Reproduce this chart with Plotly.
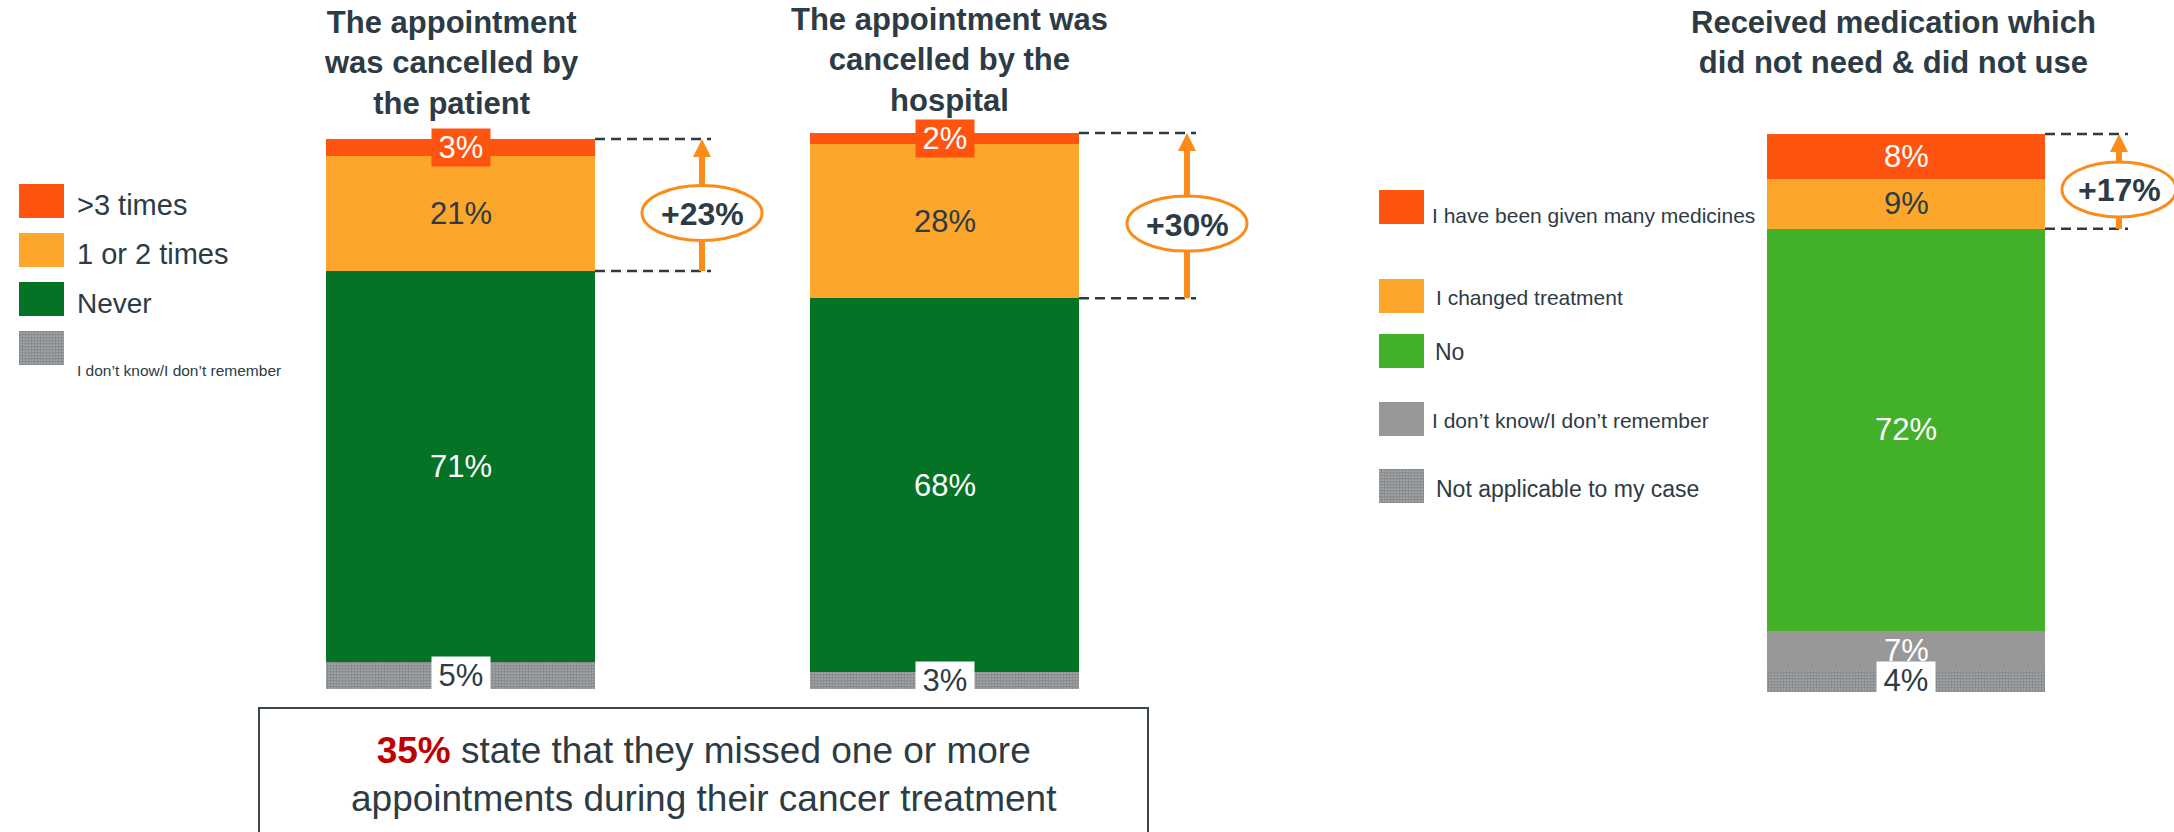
import plotly.graph_objects as go

W, H = 2174, 832

# ---------------- data ----------------
panel_titles = [
    "The appointment<br>was cancelled by<br>the patient",
    "The appointment was<br>cancelled by the<br>hospital",
    "Received medication which<br>did not need & did not use",
]

# categories listed top of bar -> bottom of bar
appt_categories = [">3 times", "1 or 2 times", "Never", "I don’t know/I don’t remember"]
cancelled_by_patient = [3, 21, 71, 5]
cancelled_by_hospital = [2, 28, 68, 3]

med_categories = [
    "I have been given many medicines",
    "I changed treatment",
    "No",
    "I don’t know/I don’t remember",
    "Not applicable to my case",
]
unneeded_medication = [8, 9, 72, 7, 4]

callout_gains = [23, 30, 17]          # share reporting at least once, per panel
missed_share = 35
missed_text = ["state that they missed one or more", "appointments during their cancer treatment"]

# ---------------- styling ----------------
FONT = "Arial, 'Liberation Sans', Helvetica, sans-serif"
INK = "#2D3B45"
RED = "#FE5410"
ORANGE = "#FCA62B"
DKGREEN = "#047326"
GREEN = "#43B02A"
GREY = "#989898"
CALLOUT = "#FB8C1A"
EMPH = "#C00000"
HATCH = None  # checkerboard fill marker

appt_colors = [RED, ORANGE, DKGREEN, HATCH]
med_colors = [RED, ORANGE, GREEN, GREY, HATCH]
# label text colour per segment
appt_label_colors = ["white", INK, "white", INK]
med_label_colors = ["white", INK, "white", "white", INK]

CHECKER = dict(shape=".", fgcolor="#141B21", bgcolor="white", size=3, solidity=0.85)

panels = [
    dict(values=cancelled_by_patient, cats=appt_categories, colors=appt_colors,
         label_colors=appt_label_colors, box=(326, 595, 689, 139),
         title_xy=(451, 63), arrow_dx=107, ell_rx=60),
    dict(values=cancelled_by_hospital, cats=appt_categories, colors=appt_colors,
         label_colors=appt_label_colors, box=(810, 1079, 689, 133),
         title_xy=(949, 60), arrow_dx=108, ell_rx=60),
    dict(values=unneeded_medication, cats=med_categories, colors=med_colors,
         label_colors=med_label_colors, box=(1767, 2045, 692, 134),
         title_xy=(1893, 43), arrow_dx=74, ell_rx=57),
]


def fx(p):
    return p / W


def fy(p):
    return 1 - p / H


fig = go.Figure()
shapes = []
annotations = []
layout_axes = {}

for i, pn in enumerate(panels, start=1):
    x0, x1, ybot, ytop = pn["box"]
    vals, cats, cols = pn["values"], pn["cats"], pn["colors"]
    total = sum(vals)
    xa = "x" if i == 1 else f"x{i}"
    ya = "y" if i == 1 else f"y{i}"
    xkey = "xaxis" if i == 1 else f"xaxis{i}"
    ykey = "yaxis" if i == 1 else f"yaxis{i}"
    layout_axes[xkey] = dict(domain=[fx(x0), fx(x1)], range=[-0.5, 0.5], visible=False,
                             anchor=ya, fixedrange=True)
    layout_axes[ykey] = dict(domain=[fy(ybot), fy(ytop)], range=[0, total], visible=False,
                             anchor=xa, fixedrange=True)
    cat_name = f"panel{i}"

    def to_py(v, ybot=ybot, ytop=ytop, total=total):
        return ybot - v * (ybot - ytop) / total

    # stack from the bottom segment upwards
    cum = 0
    order = list(range(len(vals)))[::-1]
    for k in order:
        v, c = vals[k], cols[k]
        if c is None:
            marker = dict(color="white", pattern=CHECKER, line=dict(width=0))
        else:
            marker = dict(color=c, line=dict(width=0))
        fig.add_trace(go.Bar(x=[cat_name], y=[v], width=1, marker=marker, name=cats[k],
                             xaxis=xa, yaxis=ya, showlegend=False, hoverinfo="skip"))
        mid = cum + v / 2
        small = v <= 5
        ann = dict(x=cat_name, y=mid, xref=xa, yref=ya, text=f"{v}%", showarrow=False,
                   font=dict(family=FONT, size=31, color=pn["label_colors"][k]),
                   xanchor="center", yanchor="middle")
        if small:
            ann.update(bgcolor=(c if c is not None else "white"), width=56, height=35)
        annotations.append(ann)
        cum += v

    # title
    tx, ty = pn["title_xy"]
    annotations.append(dict(x=fx(tx), y=fy(ty), xref="paper", yref="paper",
                            text=f"<b>{panel_titles[i - 1]}</b>", showarrow=False,
                            xanchor="center", yanchor="middle", align="center",
                            font=dict(family=FONT, size=31, color=INK)))

    # callout: dashed guides, arrow and ellipse spanning the top two segments
    upper = total
    lower = total - vals[0] - vals[1]
    py_up, py_lo = to_py(upper), to_py(lower)
    ax_px = x1 + pn["arrow_dx"]
    for py in (py_up, py_lo):
        shapes.append(dict(type="line", xref="paper", yref="paper",
                           x0=fx(x1), x1=fx(ax_px + 9), y0=fy(py), y1=fy(py),
                           line=dict(color=INK, width=2.5, dash="10px,6px")))
    shapes.append(dict(type="line", xref="paper", yref="paper",
                       x0=fx(ax_px), x1=fx(ax_px), y0=fy(py_lo), y1=fy(py_up + 14),
                       line=dict(color=CALLOUT, width=6)))
    shapes.append(dict(type="path", xref="paper", yref="paper",
                       path=(f"M{fx(ax_px - 9)},{fy(py_up + 18)} L{fx(ax_px + 9)},{fy(py_up + 18)} "
                             f"L{fx(ax_px)},{fy(py_up)} Z"),
                       fillcolor=CALLOUT, line=dict(width=0)))
    ecy = (py_up + py_lo) / 2 + 8
    rx, ry = pn["ell_rx"], 27.5
    shapes.append(dict(type="circle", xref="paper", yref="paper",
                       x0=fx(ax_px - rx), x1=fx(ax_px + rx), y0=fy(ecy + ry), y1=fy(ecy - ry),
                       fillcolor="white", line=dict(color=CALLOUT, width=3)))
    annotations.append(dict(x=fx(ax_px), y=fy(ecy + 1), xref="paper", yref="paper",
                            text=f"<b>+{callout_gains[i - 1]}%</b>", showarrow=False,
                            xanchor="center", yanchor="middle",
                            font=dict(family=FONT, size=32, color=INK)))

# ---------------- legends (overlay axis in pixel units) ----------------
layout_axes["xaxis4"] = dict(domain=[0, 1], range=[0, W], visible=False, anchor="y4",
                             fixedrange=True)
layout_axes["yaxis4"] = dict(domain=[0, 1], range=[H, 0], visible=False, anchor="x4",
                             fixedrange=True)


def swatch(x0, y0, x1, y1, color):
    kw = dict(x=[x0, x1, x1, x0, x0], y=[y0, y0, y1, y1, y0], mode="lines", fill="toself",
              line=dict(width=0), xaxis="x4", yaxis="y4", showlegend=False, hoverinfo="skip")
    if color is None:
        kw.update(fillcolor="white", fillpattern=CHECKER)
    else:
        kw.update(fillcolor=color)
    fig.add_trace(go.Scatter(**kw))


# left legend
left_rows = [(184, 205, 29), (233, 254, 29), (282, 303, 28), (331, 370, 15.5)]
for cat, col, (top, text_y, size) in zip(appt_categories, appt_colors, left_rows):
    swatch(19, top, 64, top + 34, col)
    annotations.append(dict(x=fx(75), y=fy(text_y), xref="paper", yref="paper", text=cat,
                            showarrow=False, xanchor="left", yanchor="middle",
                            font=dict(family=FONT, size=size, color=INK)))

# right legend
right_rows = [(190, 1430, 215, 21), (279, 1434, 298, 21), (334, 1433, 352, 23),
              (402, 1430, 420, 21), (469, 1434, 489, 23)]
for cat, col, (top, tx, text_y, size) in zip(med_categories, med_colors, right_rows):
    swatch(1379, top, 1424, top + 34, col)
    annotations.append(dict(x=fx(tx), y=fy(text_y), xref="paper", yref="paper", text=cat,
                            showarrow=False, xanchor="left", yanchor="middle",
                            font=dict(family=FONT, size=size, color=INK)))

# ---------------- summary box ----------------
shapes.append(dict(type="rect", xref="paper", yref="paper",
                   x0=fx(259), x1=fx(1148), y0=fy(850), y1=fy(708),
                   fillcolor="white", line=dict(color="#3C4752", width=2)))
annotations.append(dict(
    x=fx(703.5), y=fy(774), xref="paper", yref="paper", showarrow=False,
    xanchor="center", yanchor="middle", align="center",
    text=(f"<b><span style='color:{EMPH}'>{missed_share}%</span></b> {missed_text[0]}"
          f"<br>{missed_text[1]}"),
    font=dict(family=FONT, size=37, color=INK)))

fig.update_layout(
    width=W, height=H,
    margin=dict(l=0, r=0, t=0, b=0),
    paper_bgcolor="white", plot_bgcolor="rgba(0,0,0,0)",
    barmode="stack", showlegend=False,
    shapes=shapes, annotations=annotations,
    **layout_axes,
)

fig.write_html("out.html", config={"displayModeBar": False})
